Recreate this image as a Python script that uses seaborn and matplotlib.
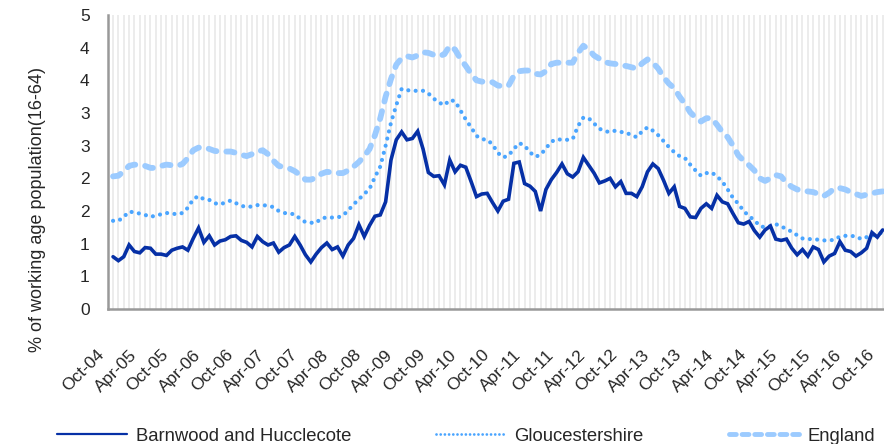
import seaborn as sns
import numpy as np
import pandas as pd
import matplotlib.pyplot as plt
import matplotlib.transforms as mtransforms
from matplotlib.lines import Line2D

# monthly claimant rate, Oct-04 .. Oct-16
barnwood = [0.80, 0.74, 0.80, 0.98, 0.88, 0.86, 0.94, 0.93, 0.84, 0.84, 0.82, 0.90,
            0.93, 0.95, 0.90, 1.08, 1.24, 1.02, 1.12, 0.98, 1.04, 1.06, 1.11, 1.12,
            1.05, 1.02, 0.95, 1.11, 1.03, 0.98, 1.01, 0.87, 0.94, 0.98, 1.11, 0.98,
            0.83, 0.72, 0.84, 0.94, 1.01, 0.91, 0.95, 0.81, 0.98, 1.08, 1.29, 1.11,
            1.28, 1.42, 1.44, 1.64, 2.28, 2.59, 2.71, 2.59, 2.61, 2.72, 2.45, 2.09,
            2.03, 2.04, 1.90, 2.28, 2.10, 2.20, 2.17, 1.95, 1.72, 1.76, 1.77, 1.63,
            1.50, 1.65, 1.68, 2.23, 2.25, 1.92, 1.88, 1.80, 1.50, 1.83, 1.98, 2.09,
            2.22, 2.07, 2.02, 2.10, 2.32, 2.20, 2.08, 1.93, 1.96, 2.00, 1.87, 1.95,
            1.77, 1.77, 1.72, 1.87, 2.10, 2.22, 2.15, 1.97, 1.77, 1.87, 1.57, 1.54,
            1.41, 1.40, 1.54, 1.61, 1.54, 1.74, 1.64, 1.61, 1.46, 1.32, 1.30, 1.34,
            1.20, 1.10, 1.21, 1.27, 1.07, 1.05, 1.07, 0.93, 0.83, 0.91, 0.81, 0.95,
            0.91, 0.72, 0.81, 0.85, 1.03, 0.90, 0.88, 0.81, 0.86, 0.93, 1.17, 1.10,
            1.21]
gloucestershire = [1.35, 1.35, 1.41, 1.49, 1.48, 1.46, 1.44, 1.41, 1.43, 1.45, 1.47, 1.46,
                   1.45, 1.47, 1.55, 1.68, 1.73, 1.68, 1.67, 1.62, 1.60, 1.63, 1.66, 1.62,
                   1.58, 1.56, 1.57, 1.59, 1.59, 1.58, 1.56, 1.50, 1.47, 1.46, 1.45, 1.38,
                   1.33, 1.32, 1.32, 1.39, 1.40, 1.40, 1.40, 1.43, 1.51, 1.60, 1.68, 1.76,
                   1.84, 2.02, 2.18, 2.50, 2.85, 3.12, 3.37, 3.35, 3.34, 3.34, 3.34, 3.30,
                   3.22, 3.16, 3.12, 3.20, 3.18, 3.04, 2.90, 2.78, 2.65, 2.60, 2.59, 2.52,
                   2.39, 2.32, 2.35, 2.45, 2.54, 2.50, 2.40, 2.33, 2.36, 2.46, 2.56, 2.60,
                   2.59, 2.59, 2.60, 2.80, 2.93, 2.92, 2.84, 2.76, 2.72, 2.71, 2.73, 2.71,
                   2.70, 2.66, 2.63, 2.72, 2.78, 2.73, 2.66, 2.57, 2.48, 2.40, 2.34, 2.31,
                   2.21, 2.12, 2.04, 2.08, 2.09, 2.03, 1.95, 1.83, 1.70, 1.61, 1.50, 1.42,
                   1.36, 1.27, 1.25, 1.27, 1.30, 1.26, 1.23, 1.18, 1.13, 1.08, 1.07, 1.07,
                   1.06, 1.05, 1.05, 1.06, 1.11, 1.12, 1.12, 1.11, 1.07, 1.10, 1.12, 1.15,
                   1.17]
england = [2.03, 2.04, 2.11, 2.19, 2.21, 2.20, 2.19, 2.16, 2.16, 2.19, 2.21, 2.20,
           2.19, 2.22, 2.31, 2.43, 2.47, 2.47, 2.45, 2.42, 2.41, 2.41, 2.41, 2.39,
           2.36, 2.34, 2.37, 2.41, 2.43, 2.37, 2.27, 2.19, 2.17, 2.15, 2.11, 2.05,
           1.98, 1.98, 2.01, 2.07, 2.10, 2.09, 2.08, 2.08, 2.12, 2.18, 2.25, 2.34,
           2.45, 2.66, 2.92, 3.25, 3.52, 3.74, 3.84, 3.87, 3.85, 3.88, 3.93, 3.92,
           3.89, 3.87, 3.90, 4.03, 3.97, 3.83, 3.72, 3.60, 3.50, 3.48, 3.48, 3.47,
           3.42, 3.41, 3.42, 3.57, 3.64, 3.65, 3.65, 3.60, 3.59, 3.64, 3.75, 3.77,
           3.77, 3.77, 3.77, 3.92, 4.03, 3.97, 3.88, 3.83, 3.78, 3.76, 3.75, 3.73,
           3.72, 3.70, 3.68, 3.76, 3.82, 3.77, 3.68, 3.55, 3.45, 3.38, 3.25, 3.14,
           3.01, 2.93, 2.87, 2.92, 2.92, 2.82, 2.71, 2.63, 2.50, 2.35, 2.27, 2.20,
           2.12, 2.00, 1.96, 2.00, 2.05, 2.03, 1.93, 1.87, 1.83, 1.81, 1.80, 1.79,
           1.76, 1.73, 1.78, 1.85, 1.85, 1.83, 1.79, 1.76, 1.73, 1.75, 1.77, 1.79,
           1.80]

months = pd.date_range("2004-10-01", periods=len(england), freq="MS").strftime("%b-%y").tolist()
y_ticks = [0, 0.5, 1, 1.5, 2, 2.5, 3, 3.5, 4, 4.5]
y_labels = ["0", "1", "1", "2", "2", "3", "3", "4", "4", "5"]

names = ["Barnwood and Hucclecote", "Gloucestershire", "England"]
colors = ["#0630a6", "#4aa5ff", "#9ccbff"]

sns.set_style("white")
plt.rcParams["font.family"] = ["Liberation Sans", "DejaVu Sans"]

fig = plt.figure(figsize=(8.84, 4.44), dpi=100)
ax = fig.add_axes([107.7 / 884, 135 / 444, 776.3 / 884, 294 / 444])

idx = np.arange(len(england))
sns.lineplot(x=idx, y=england, color=colors[2], lw=4.2, linestyle=(0, (1.4, 1.7)),
             dash_capstyle="round", ax=ax, zorder=3)
sns.lineplot(x=idx, y=gloucestershire, color=colors[1], lw=3.0, linestyle=(0, (0.01, 1.75)),
             dash_capstyle="round", ax=ax, zorder=4)
sns.lineplot(x=idx, y=barnwood, color=colors[0], lw=2.6, solid_joinstyle="miter", ax=ax, zorder=5)

ax.set_xlim(-1, 144.25)
ax.set_ylim(0, 4.5)
ax.set_yticks(y_ticks)
ax.set_yticklabels(y_labels, fontsize=12.5)
ax.set_xticks(idx[::6])
ax.set_xticklabels(months[::6], rotation=45, ha="right", va="center",
                   rotation_mode="anchor", fontsize=12.5)
ax.set_xticks(np.arange(-1, 145), minor=True)
ax.tick_params(axis="x", which="both", length=4, width=1.2, color="#999999", direction="out", pad=10)
ax.tick_params(axis="y", length=4, width=1.2, color="#999999", direction="out", pad=9)
ax.grid(axis="x", which="both", color="#ececec", lw=1.4)
ax.grid(axis="y", visible=False)
for s in ["top", "right"]:
    ax.spines[s].set_visible(False)
for s in ["left", "bottom"]:
    ax.spines[s].set_color("#999999")
    ax.spines[s].set_linewidth(1.8)

# shift the slanted month labels down/left like the original
shift = mtransforms.ScaledTranslation(-0.11, -0.24, fig.dpi_scale_trans)
for lab in ax.get_xticklabels():
    lab.set_transform(lab.get_transform() + shift)

ax.set_ylabel("% of working age population(16-64)", fontsize=13)
ax.yaxis.set_label_coords(-0.08, 0.34)

handles = [
    Line2D([], [], color=colors[0], lw=1.6),
    Line2D([], [], color=colors[1], lw=2.0, linestyle=(0, (0.01, 1.5)), dash_capstyle="round"),
    Line2D([], [], color=colors[2], lw=3.5, linestyle=(0, (1.4, 1.2)), dash_capstyle="round"),
]
fig.legend(handles, names, loc="center left", bbox_to_anchor=(57 / 884, 8 / 444),
           ncol=3, frameon=False, fontsize=13.3, handlelength=3.8, handletextpad=0.45,
           columnspacing=4.6, borderpad=0, borderaxespad=0)

fig.savefig("out.png", dpi=100)
